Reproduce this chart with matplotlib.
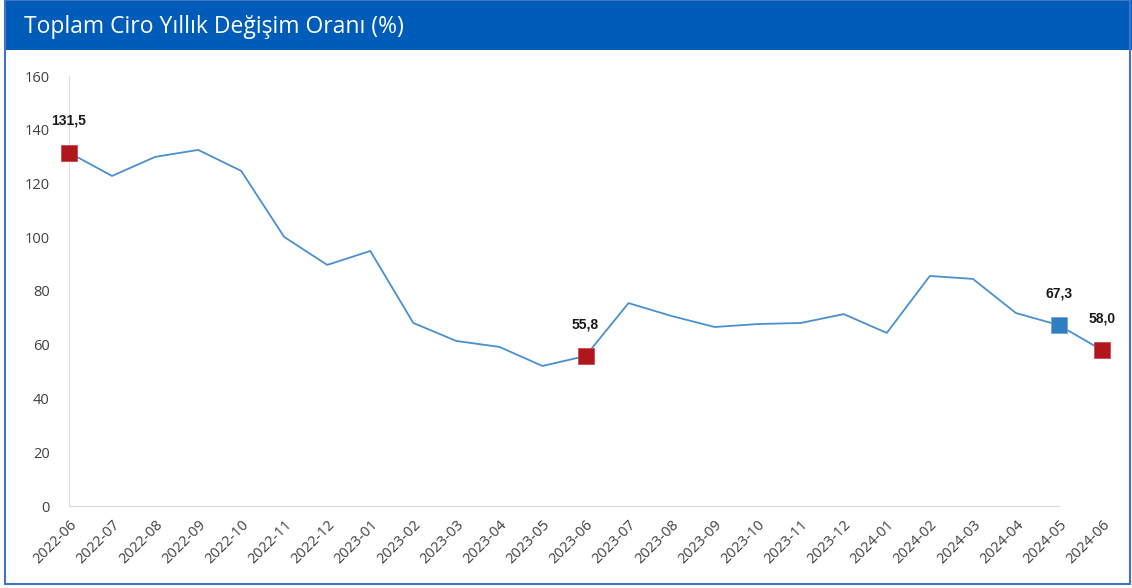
import matplotlib.pyplot as plt
from matplotlib.patches import Rectangle

months = ['2022-06', '2022-07', '2022-08', '2022-09', '2022-10', '2022-11', '2022-12',
          '2023-01', '2023-02', '2023-03', '2023-04', '2023-05', '2023-06', '2023-07',
          '2023-08', '2023-09', '2023-10', '2023-11', '2023-12', '2024-01', '2024-02',
          '2024-03', '2024-04', '2024-05', '2024-06']
values = [131.5, 122.8, 129.9, 132.5, 124.7, 100.1, 89.7, 94.9, 68.1, 61.4, 59.2, 52.1,
          55.8, 75.5, 70.7, 66.6, 67.7, 68.1, 71.4, 64.4, 85.6, 84.5, 71.8, 67.3, 58.0]
# highlighted points: index -> colour
red_idx = [0, 12, 24]
blue_idx = [23]
yticks = [0, 20, 40, 60, 80, 100, 120, 140, 160]

fig = plt.figure(figsize=(11.32, 5.88), dpi=100)
W, H = 1132, 588

# title bar + frame
fig.patches.append(Rectangle((5 / W, 1 - 50 / H), 1 - 5 / W, 50 / H, transform=fig.transFigure,
                             facecolor='#005CB9', edgecolor='none', zorder=0))
fig.patches.append(Rectangle((5 / W, 4 / H), 1 - 7 / W, 1 - 4 / H, transform=fig.transFigure,
                             facecolor='none', edgecolor='#4472C4', lw=1.5, zorder=1))
fig.text(24 / W, 1 - 27 / H, 'Toplam Ciro Yıllık Değişim Oranı (%)', color='white',
         fontsize=16.5, family='Open Sans', va='center', ha='left')

ax = fig.add_axes([69 / W, 82 / H, (1102 - 69) / W, (506 - 76) / H])
x = list(range(len(months)))
ax.plot(x, values, color='#4A90CF', lw=1.3, zorder=2)
for i in red_idx:
    ax.plot(x[i], values[i], 's', ms=12, color='#B0161C', mec='#C84A4F', mew=0.6,
            clip_on=False, zorder=3)
for i in blue_idx:
    ax.plot(x[i], values[i], 's', ms=12, color='#2E7EC1', mec='#6FA6D6', mew=0.6,
            clip_on=False, zorder=3)
for i in red_idx + blue_idx:
    ax.annotate(f'{values[i]:.1f}'.replace('.', ','), (x[i], values[i]), xytext=(0, 23),
                textcoords='offset points', ha='center', va='center', fontsize=10,
                fontweight='bold', family='Liberation Sans', color='#1a1a1a')

ax.set_xlim(0, 24)
ax.set_ylim(0, 160)
ax.set_yticks(yticks)
ax.set_xticks(x)
ax.set_xticklabels(months, rotation=45, ha='right', rotation_mode='anchor')
ax.tick_params(length=0, labelsize=10.5, colors='#404040', pad=8)
for lab in ax.get_xticklabels() + ax.get_yticklabels():
    lab.set_family('Open Sans')
ax.tick_params(axis='y', pad=14)
for s in ['top', 'right']:
    ax.spines[s].set_visible(False)
ax.spines['left'].set_color('#E0E0E0')
ax.spines['bottom'].set_color('#D9D9D9')
ax.spines['bottom'].set_bounds(0, 23)

fig.savefig('out.png', dpi=100)
